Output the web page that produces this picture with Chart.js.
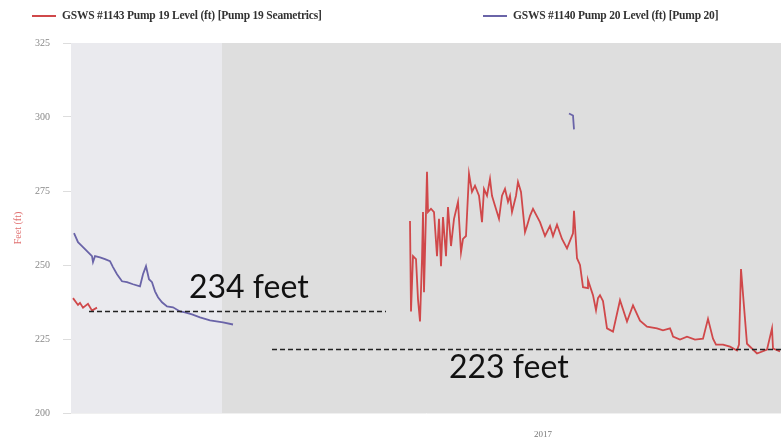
<!DOCTYPE html>
<html>
<head>
<meta charset="utf-8">
<script src="https://cdn.jsdelivr.net/npm/chart.js@4.4.0/dist/chart.umd.min.js"></script>
<style>
    html, body { margin: 0; padding: 0; background: #fff; }
    #wrap { position: relative; width: 781px; height: 438px; }
    #legend {
        position: absolute; top: 9px; left: 0; width: 781px; height: 16px;
        font: bold 11.5px "Liberation Serif", serif; color: #333; letter-spacing: -0.2px;
    }
    #legend span { position: absolute; top: 0; white-space: nowrap; }
    #legend i { display: inline-block; width: 24px; height: 2px; vertical-align: middle; margin-right: 6px; }
</style>
</head>
<body>
<div id="wrap">
    <div id="legend"></div>
    <canvas id="levelChart" width="781" height="438"></canvas>
</div>
<script>
// x in days from start of shown window, y in feet
var pump19Days = [1, 3.5, 4.5, 6, 8.5, 10.5, 13,
    14,
    169.5, 170, 171, 172.5, 173.5, 174.5, 175.5, 176, 176.5, 178, 178.5, 180, 181.5, 183, 184, 185, 186, 187.5, 188.5,
    190, 191.5, 193.5, 195, 196, 197.5, 199, 200.5, 202, 204, 205.5, 206.5, 208, 209.5, 210.5, 212, 214, 215.5, 217, 218.5,
    219.5, 220.5, 222.5, 223.5, 225, 227, 228, 229.5, 231, 234.5, 237, 239.5, 241, 243, 245.5, 248, 251, 251.5, 253, 254.5,
    256, 258.5, 258.5, 261, 262.5, 263.5, 264.5, 266, 268, 271, 274.5, 278, 281, 284.5, 288, 293, 296, 299.5, 300.5, 301,
    304.5, 308, 312, 316, 318.5, 321, 322.5, 326, 329.5, 333, 334, 335, 338, 343, 348, 350.5, 351, 354.5];
var pump19Feet = [238.8, 236.5, 237.2, 235.6, 236.9, 234.6, 235.6,
    null,
    264.9, 234.3, 253, 252, 238.4, 230.9, 252, 267.9, 240.8, 281.5, 267.9, 269, 267.9, 253, 265.6, 249.6, 266.2, 253, 269.6,
    256.4, 265.6, 271.3, 254.3, 258.8, 259.8, 280.8, 274.7, 276.8, 273.4, 264.5, 275.7, 273.4, 279.1, 273.4, 270, 265.6, 273.4,
    275.7, 271.3, 273.4, 267.9, 273.4, 278.1, 274.7, 261.1, 263.2, 266.6, 269, 264.5, 259.8, 263.2, 259.8, 263.6, 258.8, 255.6,
    260.7, 268.3, 252.3, 250, 242.5, 242.2, 244.9, 239.8, 234.7, 238.8, 239.8, 237.8, 228.6, 227.5, 238.1, 230.9, 236.4, 231.2,
    229.2, 228.6, 227.9, 228.6, 226.9, 225.8, 224.8, 225.8, 224.8, 225.1, 231.8, 225.1, 223.1, 223.1, 222.4, 221.1, 223.1, 248.6,
    223.4, 220.1, 221.4, 228.6, 221.8, 220.8, 219.1, 219.8, 230.1, 219.1, 216.4];
var pump20Days = [1.5, 3.5, 5.5, 8, 10.5, 11, 12, 14.5, 17, 19.5, 21, 23, 25.5, 28, 31, 34.5, 36, 37.5, 39, 40.5, 42, 43.5,
    45.5, 48, 51, 54.5, 57, 60.5, 64.5, 69.5, 76, 81,
    82, 249, 251, 251.5];
var pump20Feet = [260.8, 257.7, 256.4, 254.7, 253, 251, 253, 252.6, 252, 251.3, 249.3, 246.9, 244.5, 244.2, 243.5, 242.8,
    246.9, 249.6, 245.2, 244.2, 241.1, 239.1, 237.4, 236, 235.7, 234.3, 234, 233.3, 232.3, 231.3, 230.6, 229.9,
    null, 301.2, 300.5, 295.8];

var seriesNames = ['GSWS #1143 Pump 19 Level (ft) [Pump 19 Seametrics]', 'GSWS #1140 Pump 20 Level (ft) [Pump 20]'];
var seriesColors = ['#d0484a', '#6a64a8'];

var yTicks = [200, 225, 250, 275, 300, 325];
var xTickDays = [236];
var xTickLabels = ['2017'];

// shaded periods: [start, end, colour]
var bands = [[0, 75.5, '#eaeaee'], [75.5, 355, '#dedede']];
// dashed reference lines: [from day, to day, feet, label, label start day, label feet]
var refLines = [
    [9, 157.5, 234.3, '234 feet', 59, 242.4],
    [100.5, 355, 221.6, '223 feet', 189, 215.3]
];

function toPoints(days, feet) {
    return days.map(function(d, i) { return {x: d, y: feet[i]}; });
}

var bandPlugin = {
    id: 'bands',
    beforeDatasetsDraw: function(chart) {
        var c = chart.ctx, xs = chart.scales.x, a = chart.chartArea;
        c.save();
        bands.forEach(function(b) {
            var x1 = xs.getPixelForValue(b[0]), x2 = xs.getPixelForValue(b[1]);
            c.fillStyle = b[2];
            c.fillRect(x1, a.top, x2 - x1, a.bottom - a.top);
        });
        c.restore();
    },
    afterDatasetsDraw: function(chart) {
        var c = chart.ctx, xs = chart.scales.x, ys = chart.scales.y;
        c.save();
        refLines.forEach(function(r) {
            var y = Math.round(ys.getPixelForValue(r[2])) + 0.5;
            c.strokeStyle = '#222';
            c.lineWidth = 1.3;
            c.setLineDash([5, 3]);
            c.beginPath();
            c.moveTo(xs.getPixelForValue(r[0]), y);
            c.lineTo(xs.getPixelForValue(r[1]), y);
            c.stroke();
            c.setLineDash([]);
            c.fillStyle = '#111';
            c.font = '32px Lato, "Open Sans", sans-serif';
            c.textAlign = 'left';
            c.textBaseline = 'middle';
            c.fillText(r[3], xs.getPixelForValue(r[4]), ys.getPixelForValue(r[5]));
        });
        c.restore();
    }
};

document.addEventListener('DOMContentLoaded', function() {
    var legend = document.getElementById('legend');
    var legendLeft = [32, 483];
    seriesNames.forEach(function(n, i) {
        var s = document.createElement('span');
        s.style.left = legendLeft[i] + 'px';
        s.innerHTML = '<i style="background:' + seriesColors[i] + '"></i>' + n;
        legend.appendChild(s);
    });

    var ctx = document.getElementById('levelChart').getContext('2d');
    var levelChart = new Chart(ctx, {
        type: 'line',
        data: {
            datasets: [{
                label: seriesNames[0],
                data: toPoints(pump19Days, pump19Feet),
                borderColor: seriesColors[0],
                borderWidth: 1.8,
                pointRadius: 0,
                tension: 0
            }, {
                label: seriesNames[1],
                data: toPoints(pump20Days, pump20Feet),
                borderColor: seriesColors[1],
                borderWidth: 1.8,
                pointRadius: 0,
                tension: 0
            }]
        },
        plugins: [bandPlugin],
        options: {
            responsive: false,
            animation: false,
            spanGaps: false,
            layout: { padding: { top: 43, right: 0, left: 0, bottom: 0 } },
            scales: {
                x: {
                    type: 'linear',
                    min: 0,
                    max: 355,
                    afterBuildTicks: function(scale) {
                        scale.ticks = xTickDays.map(function(v) { return {value: v}; });
                    },
                    afterFit: function(scale) { scale.height = 25; },
                    grid: { display: false },
                    border: { display: true, color: '#f0f0f0' },
                    ticks: {
                        padding: 8,
                        maxRotation: 0,
                        color: '#777',
                        font: { family: '"Liberation Serif", serif', size: 9 },
                        callback: function(v) {
                            var i = xTickDays.indexOf(v);
                            return i >= 0 ? xTickLabels[i] : '';
                        }
                    }
                },
                y: {
                    min: 200,
                    max: 325,
                    afterBuildTicks: function(scale) {
                        scale.ticks = yTicks.map(function(v) { return {value: v}; });
                    },
                    afterFit: function(scale) { scale.width = 71; },
                    grid: { drawOnChartArea: false, drawTicks: true, tickLength: 8, color: '#ddd' },
                    border: { display: false },
                    title: {
                        display: true,
                        text: 'Feet (ft)',
                        color: '#e07070',
                        padding: { top: 12, bottom: 0 },
                        font: { family: '"Liberation Serif", serif', size: 10 }
                    },
                    ticks: {
                        padding: 13,
                        color: '#888',
                        font: { family: '"Liberation Serif", serif', size: 10 }
                    }
                }
            },
            plugins: {
                legend: { display: false },
                tooltip: { enabled: false }
            }
        }
    });
});
</script>
</body>
</html>
